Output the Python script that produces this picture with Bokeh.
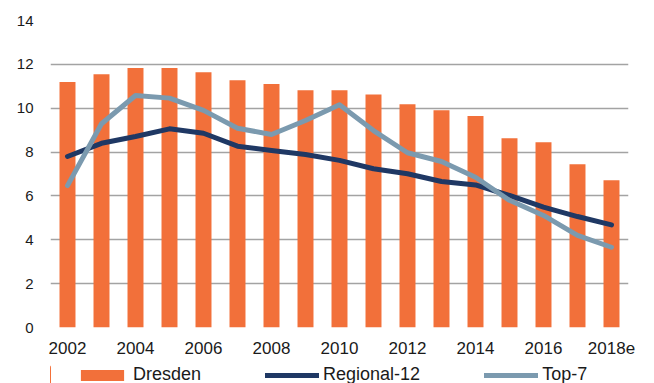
from bokeh.plotting import figure
from bokeh.models import FixedTicker, Legend, LegendItem, Range1d
from bokeh.layouts import column
from bokeh.embed import file_html
from bokeh.resources import INLINE

years = [2002, 2003, 2004, 2005, 2006, 2007, 2008, 2009, 2010,
         2011, 2012, 2013, 2014, 2015, 2016, 2017, 2018]
dresden = [11.2, 11.55, 11.83, 11.83, 11.64, 11.28, 11.1, 10.82, 10.82,
           10.62, 10.18, 9.91, 9.64, 8.63, 8.45, 7.45, 6.72]
regional12 = [7.8, 8.4, 8.71, 9.06, 8.86, 8.27, 8.07, 7.89, 7.62,
              7.24, 7.01, 6.66, 6.5, 6.02, 5.49, 5.06, 4.68]
top7 = [6.47, 9.29, 10.58, 10.46, 9.9, 9.09, 8.8, 9.44, 10.16,
        8.98, 7.97, 7.57, 6.85, 5.8, 5.11, 4.2, 3.66]
x_ticks = [2002, 2004, 2006, 2008, 2010, 2012, 2014, 2016, 2018]
x_tick_labels = ["2002", "2004", "2006", "2008", "2010", "2012", "2014", "2016", "2018e"]
y_ticks = [0, 2, 4, 6, 8, 10, 12, 14]
series_names = ["Dresden", "Regional-12", "Top-7"]

FONT = "Liberation Sans"
ORANGE, NAVY, STEEL = "#F2703A", "#1F3864", "#7B9AAF"

p = figure(width=654, height=362, output_backend="svg", toolbar_location=None,
           min_border_left=50, min_border_right=26, min_border_top=20,
           min_border_bottom=35)
p.x_range = Range1d(2001.5, 2018.5)
p.y_range = Range1d(0, 14)
p.outline_line_color = None
p.background_fill_color = "white"
p.border_fill_color = "white"

p.vbar(x=years, top=dresden, width=0.47, fill_color=ORANGE, line_color=None)
p.line(years, regional12, line_color=NAVY, line_width=5, line_join="round", line_cap="round")
p.line(years, top7, line_color=STEEL, line_width=5, line_join="round", line_cap="round")

p.xgrid.grid_line_color = None
p.ygrid.grid_line_color = "#A3A3A3"
p.ygrid.grid_line_width = 1.6
p.ygrid.ticker = FixedTicker(ticks=y_ticks)

p.yaxis.ticker = FixedTicker(ticks=y_ticks)
p.xaxis.ticker = FixedTicker(ticks=x_ticks)
p.xaxis.major_label_overrides = {t: l for t, l in zip(x_ticks, x_tick_labels)}
for ax in (p.xaxis, p.yaxis):
    ax.axis_line_color = None
    ax.major_tick_line_color = None
    ax.minor_tick_line_color = None
    ax.major_tick_out = 0
    ax.major_tick_in = 0
    ax.major_label_text_font = FONT
    ax.major_label_text_color = "#1A1A1A"
p.yaxis.major_label_text_font_size = "15px"
p.yaxis.major_label_standoff = 17
p.xaxis.major_label_text_font_size = "17px"
p.xaxis.major_label_standoff = 14

# legend strip: a second figure whose copies of the series lie well outside its
# view (x range after the data), so only the legend shows
leg = figure(width=654, height=21, output_backend="svg", toolbar_location=None,
             min_border=0, x_range=Range1d(2022, 2040), y_range=Range1d(0, 14))
leg.axis.visible = False
leg.grid.visible = False
leg.outline_line_color = None
leg.background_fill_alpha = 0
lb = leg.vbar(x=years, top=dresden, width=0.47, fill_color=ORANGE, line_color=None)
ll1 = leg.line(years, regional12, line_color=NAVY, line_width=5, line_cap="round")
ll2 = leg.line(years, top7, line_color=STEEL, line_width=5, line_cap="round")

legend = Legend(items=[LegendItem(label=series_names[0], renderers=[lb]),
                       LegendItem(label=series_names[1], renderers=[ll1]),
                       LegendItem(label=series_names[2], renderers=[ll2])],
                orientation="horizontal", location=(25, -2),
                glyph_width=54, glyph_height=14, label_standoff=4, spacing=64,
                padding=0, margin=0, border_line_color=None,
                background_fill_alpha=0,
                label_text_font=FONT, label_text_font_size="18px",
                label_text_color="#1A1A1A")
leg.add_layout(legend, "center")

layout = column(p, leg, spacing=0)
open("out.html", "w").write(file_html(layout, INLINE))
